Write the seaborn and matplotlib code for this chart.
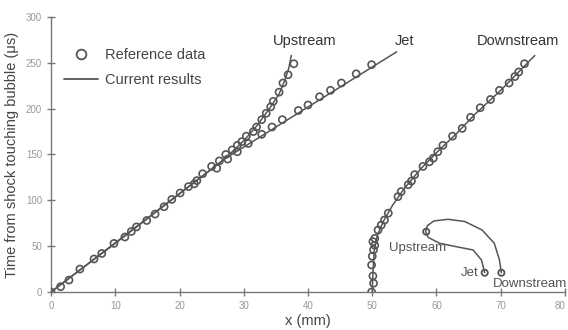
import matplotlib
matplotlib.use("Agg")
import matplotlib.pyplot as plt
import seaborn as sns
import pandas as pd
from matplotlib.lines import Line2D

# ---- data ----
up_ref_x = [0, 1.5, 2.8, 4.5, 6.7, 7.9, 9.8, 11.5, 12.5, 13.3, 14.9, 16.2, 17.6, 18.8, 20.1,
            21.4, 22.7, 23.6, 25.0, 26.2, 27.2, 28.2, 29.0, 29.7, 30.4, 31.5, 32.0, 32.8,
            33.5, 34.2, 34.6, 35.5, 36.1, 36.9, 37.8]
up_ref_t = [0, 5.8, 13, 25, 36, 42, 53, 60, 66, 71, 78, 85, 93, 101, 108,
            115, 121.5, 129, 137, 143, 150, 155, 160, 164, 170, 175, 180, 188,
            195, 202, 208, 218, 228, 237, 249]
jet_ref_x = [22.3, 25.8, 27.5, 29.0, 30.7, 32.8, 34.4, 36.0, 38.5, 40.0, 41.8, 43.5, 45.2, 47.5, 49.9]
jet_ref_t = [118, 135, 145, 153, 162, 172, 180, 188, 198, 204, 213, 220, 228, 238, 248]
down_ref_x = [49.9, 50.2, 50.1, 49.9, 50.0, 50.2, 50.4, 50.1, 50.4, 50.9, 51.4, 51.9, 52.5, 54.0,
              54.5, 55.6, 56.1, 56.6, 57.9, 58.9, 59.5, 60.2, 61.0, 62.5, 64.0, 65.3, 66.8,
              68.4, 69.8, 71.3, 72.2, 72.8, 73.7]
down_ref_t = [0, 9.5, 17.5, 29.5, 39, 46, 51, 55, 58.5, 67.6, 73, 78.5, 86, 104,
              109.5, 117, 121, 128, 137, 142, 146, 153, 160, 170, 178.5, 190.5, 201,
              210, 220, 228, 235, 240, 249]

up_cur_x = [0, 10, 20, 27, 30, 32, 34, 35.5, 36.5, 37.0, 37.4]
up_cur_t = [0, 53, 107, 145, 165, 181, 200, 216, 233, 244, 258]
jet_cur_x = [0, 27, 53.8]
jet_cur_t = [0, 145, 262]
down_cur_x = [50.0, 50.1, 50.3, 50.8, 51.8, 53.2, 55.0, 57.5, 60.0, 63.0, 66.0, 70.0, 75.3]
down_cur_t = [0, 20, 45, 62, 78, 95, 113, 134, 152, 172, 194, 220, 258]

# inset bubble sketch (outline and marked points)
sketch_x = [67.5, 67.0, 65.7, 63.1, 60.5, 58.7, 58.3, 58.6, 59.6, 61.8, 64.4, 67.1, 69.0, 69.8, 70.1]
sketch_t = [21, 34.9, 45.8, 49.4, 53.1, 59.6, 65.8, 72.5, 77.5, 79.3, 76.9, 67.6, 53.1, 34.9, 21]
sketch_pt_x = [58.4, 67.5, 70.1]
sketch_pt_t = [65.8, 21, 21]

branch_labels = ["Upstream", "Jet", "Downstream"]
branch_label_x = [39.5, 55.0, 72.6]
branch_label_t = [274, 274, 274]
sketch_labels = ["Upstream", "Jet", "Downstream"]
sketch_label_x = [57.0, 66.6, 74.6]
sketch_label_t = [48, 21, 9]

x_ticks = [0, 10, 20, 30, 40, 50, 60, 70, 80]
y_ticks = [0, 50, 100, 150, 200, 250, 300]

# ---- plot ----
sns.set_style("white")
plt.rcParams['font.family'] = ['Liberation Sans', 'DejaVu Sans']

fig = plt.figure(figsize=(5.68, 3.30), dpi=100)
ax = fig.add_axes([0.0898, 0.1152, 0.9049, 0.8333])

lc = "#555555"
for xs, ts in [(up_cur_x, up_cur_t), (jet_cur_x, jet_cur_t), (down_cur_x, down_cur_t)]:
    sns.lineplot(x=xs, y=ts, ax=ax, color=lc, lw=1.1, sort=False, estimator=None)
sns.lineplot(x=sketch_x, y=sketch_t, ax=ax, color=lc, lw=1.1, sort=False, estimator=None)

for xs, ts in [(up_ref_x, up_ref_t), (jet_ref_x, jet_ref_t), (down_ref_x, down_ref_t)]:
    sns.scatterplot(x=xs, y=ts, ax=ax, marker="o", s=26, facecolor="none",
                    edgecolor=lc, linewidth=1.2, zorder=3)
sns.scatterplot(x=sketch_pt_x, y=sketch_pt_t, ax=ax, marker="o", s=20, facecolor="none",
                edgecolor=lc, linewidth=1.3, zorder=3)

for lab, lx, lt in zip(branch_labels, branch_label_x, branch_label_t):
    ax.text(lx, lt, lab, ha="center", va="center", fontsize=10.5, color="#333333")
ax.text(sketch_label_x[0], sketch_label_t[0], sketch_labels[0], ha="center", va="center",
        fontsize=9.5, color="#555555")
ax.text(sketch_label_x[1], sketch_label_t[1], sketch_labels[1], ha="right", va="center",
        fontsize=9.5, color="#555555")
ax.text(sketch_label_x[2], sketch_label_t[2], sketch_labels[2], ha="center", va="center",
        fontsize=9.5, color="#555555")

ax.set_xlim(0, 80)
ax.set_ylim(0, 300)
ax.set_xticks(x_ticks)
ax.set_yticks(y_ticks)
ax.set_xticklabels([str(v) for v in x_ticks])
ax.set_yticklabels([str(v) for v in y_ticks])
ax.tick_params(axis="both", direction="inout", length=6, width=1.0, color="#777777",
               labelsize=7, labelcolor="#999999", left=True, bottom=True)
ax.get_xticklabels()[-1].set_horizontalalignment("right")
for s in ["top", "right"]:
    ax.spines[s].set_visible(False)
for s in ["left", "bottom"]:
    ax.spines[s].set_color("#777777")
    ax.spines[s].set_linewidth(1.0)
    ax.spines[s].set_zorder(0.5)

ax.set_xlabel("x (mm)", fontsize=10.5, color="#444444", labelpad=2)
ax.set_ylabel("Time from shock touching bubble (μs)", fontsize=10.5, color="#444444", labelpad=5)

handles = [Line2D([], [], ls="none", marker="o", mfc="none", mec=lc, mew=1.3, ms=7),
           Line2D([], [], color=lc, lw=1.3)]
leg = ax.legend(handles, ["Reference data", "Current results"], loc="upper left",
                bbox_to_anchor=(0.0, 0.935), frameon=False, fontsize=10.5,
                handlelength=2.3, handletextpad=0.5, labelspacing=0.75, labelcolor="#444444")

fig.savefig("out.png", dpi=100)
